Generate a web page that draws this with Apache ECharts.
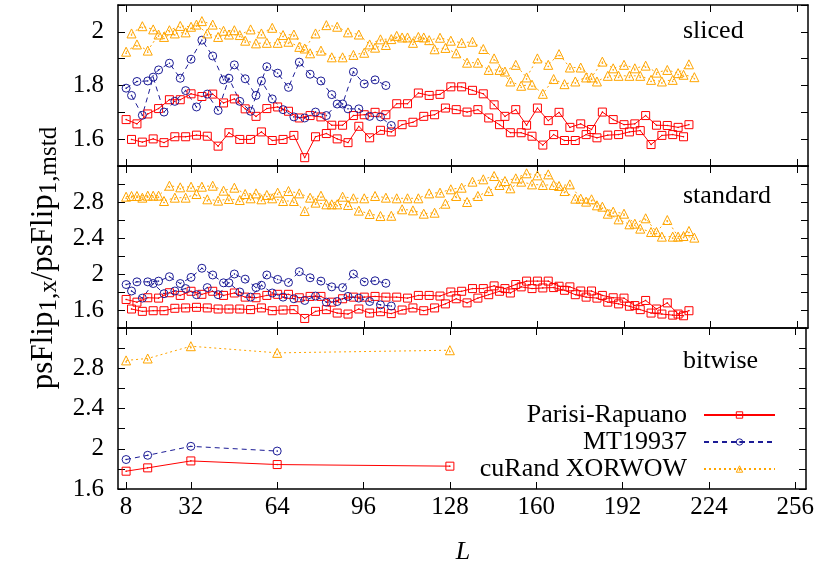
<!DOCTYPE html>
<html><head><meta charset="utf-8">
<script src="https://cdn.jsdelivr.net/npm/echarts@6/dist/echarts.min.js"></script>
<style>html,body{margin:0;padding:0;background:#fff}#c{width:817px;height:571px}</style>
</head><body><div id="c"></div>
<script>
// ---- L values ----
const L_A216 = [8,12,16,20,24,28,32,36,40,44,48,52,56,60,64,68,72,76,80,84,88,92,96,100,104,108,112,116,120,124,128,132,136,140,144,148,152,156,160,164,168,172,176,180,184,188,192,196,200,204,208,212,216];
const L_B214 = [10,14,18,22,26,30,34,38,42,46,50,54,58,62,66,70,74,78,82,86,90,94,98,102,106,110,114,118,122,126,130,134,138,142,146,150,154,158,162,166,170,174,178,182,186,190,194,198,202,206,210,214];
const L_B218 = [10,14,18,22,26,30,34,38,42,46,50,54,58,62,66,70,74,78,82,86,90,94,98,102,106,110,114,118,122,126,130,134,138,142,146,150,154,158,162,166,170,174,178,182,186,190,194,198,202,206,210,214,218];
const L_A104 = [8,12,16,20,24,28,32,36,40,44,48,52,56,60,64,68,72,76,80,84,88,92,96,100,104];
const L_B106 = [10,14,18,22,26,30,34,38,42,46,50,54,58,62,66,70,74,78,82,86,90,94,98,102,106];
const L_bit = [8,16,32,64,128];
const L_bitMT = [8,16,32,64];

// ---- sliced ----
const sl_PR_A = [1.673,1.657,1.694,1.714,1.747,1.747,1.769,1.759,1.768,1.735,1.75,1.713,1.685,1.714,1.72,1.704,1.679,1.688,1.683,1.652,1.652,1.688,1.691,1.70,1.691,1.732,1.732,1.772,1.763,1.767,1.795,1.795,1.782,1.769,1.728,1.685,1.71,1.652,1.716,1.669,1.70,1.644,1.657,1.636,1.701,1.673,1.654,1.657,1.688,1.652,1.651,1.644,1.654];
const sl_PR_B = [1.599,1.589,1.601,1.587,1.609,1.609,1.615,1.611,1.574,1.624,1.599,1.599,1.627,1.595,1.599,1.614,1.531,1.609,1.621,1.601,1.587,1.648,1.605,1.633,1.627,1.654,1.663,1.685,1.691,1.716,1.71,1.701,1.71,1.679,1.654,1.624,1.624,1.611,1.578,1.617,1.595,1.595,1.617,1.605,1.615,1.617,1.627,1.632,1.58,1.614,1.617,1.609];
const sl_MT_A = [1.790,1.815,1.817,1.858,1.883,1.827,1.898,1.969,1.91,1.821,1.877,1.825,1.763,1.87,1.846,1.793,1.887,1.842,1.817,1.766,1.731,1.851,1.806,1.821,1.80];
const sl_MT_B = [1.763,1.689,1.831,1.701,1.741,1.781,1.72,1.768,1.707,1.827,1.741,1.704,1.817,1.75,1.71,1.683,1.679,1.701,1.688,1.731,1.713,1.713,1.685,1.683,1.651];
const sl_XW_A = [1.926,1.953,1.93,1.99,2.006,2.022,2.019,2.04,2.027,2.004,2.006,1.967,1.957,1.959,1.959,1.963,1.944,1.92,1.93,1.905,1.905,1.914,1.922,1.941,1.951,1.985,1.979,1.981,1.969,1.978,1.967,1.959,1.963,1.936,1.901,1.852,1.877,1.83,1.901,1.877,1.917,1.867,1.867,1.83,1.889,1.864,1.877,1.864,1.874,1.848,1.858,1.846,1.879];
const sl_XW_B = [1.994,2.021,2.009,1.981,1.994,1.998,2.027,1.994,1.981,1.99,1.988,2.009,1.994,2.015,1.988,1.99,1.938,1.994,2.025,2.019,1.998,1.99,1.953,1.972,1.973,1.979,1.959,1.979,1.935,1.94,1.92,1.885,1.885,1.858,1.858,1.815,1.799,1.803,1.769,1.824,1.805,1.815,1.83,1.815,1.836,1.836,1.836,1.836,1.821,1.815,1.821,1.84,1.831];

// ---- standard ----
const st_PR_A = [1.717,1.687,1.736,1.732,1.792,1.762,1.808,1.774,1.808,1.762,1.789,1.743,1.736,1.762,1.774,1.774,1.736,1.751,1.751,1.687,1.725,1.743,1.743,1.751,1.743,1.743,1.732,1.762,1.762,1.755,1.80,1.808,1.838,1.838,1.868,1.838,1.883,1.921,1.921,1.921,1.864,1.857,1.811,1.811,1.762,1.736,1.732,1.649,1.706,1.611,1.679,1.555,1.592];
const st_PR_B = [1.611,1.585,1.592,1.592,1.619,1.623,1.63,1.623,1.611,1.611,1.611,1.604,1.623,1.592,1.60,1.604,1.506,1.585,1.604,1.566,1.555,1.611,1.566,1.581,1.56,1.60,1.623,1.592,1.623,1.668,1.725,1.679,1.732,1.77,1.808,1.789,1.857,1.838,1.845,1.849,1.819,1.77,1.743,1.732,1.687,1.668,1.642,1.604,1.566,1.555,1.543,1.536];
const st_MT_A = [1.883,1.913,1.913,1.921,1.97,1.894,1.962,2.064,1.989,1.902,2.0,1.943,1.849,1.989,1.94,1.906,2.026,1.958,1.921,1.857,1.849,2.0,1.913,1.925,1.897];
const st_MT_B = [1.811,1.732,1.894,1.781,1.811,1.838,1.77,1.849,1.77,1.902,1.80,1.743,1.875,1.789,1.743,1.725,1.706,1.755,1.687,1.694,1.751,1.732,1.694,1.657,1.644];
const st_XW_A = [2.859,2.867,2.87,2.87,2.981,2.963,2.97,2.97,2.981,2.926,2.959,2.889,2.896,2.878,2.904,2.922,2.896,2.848,2.87,2.774,2.859,2.841,2.841,2.867,2.848,2.841,2.841,2.841,2.896,2.904,2.941,2.959,3.026,3.052,3.089,3.033,3.063,3.119,3.096,3.107,2.978,2.996,2.837,2.83,2.748,2.693,2.67,2.559,2.619,2.467,2.60,2.415,2.478];
const st_XW_B = [2.867,2.848,2.87,2.811,2.848,2.848,2.889,2.83,2.815,2.833,2.822,2.841,2.83,2.841,2.811,2.811,2.70,2.793,2.774,2.774,2.767,2.704,2.667,2.644,2.647,2.719,2.707,2.67,2.681,2.781,2.867,2.80,2.867,2.922,2.989,2.952,3.026,2.996,2.989,2.989,2.922,2.837,2.804,2.763,2.67,2.607,2.552,2.504,2.467,2.415,2.415,2.422,2.404];

// ---- bitwise ----
const bw_PR = [1.777,1.81,1.879,1.843,1.827];
const bw_MT = [1.893,1.935,2.024,1.977];
const bw_XW = [2.878,2.897,3.019,2.953,2.979];

// ---- axes / labels ----
const xTicks = [8,32,64,96,128,160,192,224,256];
const panelNames = ['sliced','standard','bitwise'];
const yTickLabels = [[1.6,1.8,2],[1.6,2,2.4,2.8],[1.6,2,2.4,2.8]];
const seriesNames = ['Parisi-Rapuano','MT19937','cuRand XORWOW'];

const FONT = '"Liberation Serif", "Times New Roman", serif';
const RED = '#ff0000', BLUE = '#1c1c96', ORANGE = '#ffa500';

const grids = [
  {left:118, right:9, top:5, height:161},
  {left:118, right:9, top:166, height:162},
  {left:118, right:9, top:328, height:161}
];
const yR = [{min:1.5,max:2.1,interval:0.1},{min:1.4,max:3.2,interval:0.2},{min:1.6,max:3.2,interval:0.2}];

const xAxis = [], yAxis = [];
grids.forEach((g,i)=>{
  ['bottom','top'].forEach(pos=>{
    xAxis.push({type:'value', gridIndex:i, position:pos, min:5, max:260,
      axisLine:{show:true, onZero:false, lineStyle:{color:'#000', width:1.5}},
      axisTick:{show:true, inside:true, length:7, customValues:xTicks, lineStyle:{color:'#000', width:1}},
      axisLabel:{show:(i===2 && pos==='bottom'), customValues:xTicks, fontFamily:FONT, fontSize:25, color:'#000', margin:6},
      splitLine:{show:false}});
  });
  ['left','right'].forEach(pos=>{
    yAxis.push({type:'value', gridIndex:i, position:pos, min:yR[i].min, max:yR[i].max, interval:yR[i].interval,
      axisLine:{show:true, onZero:false, lineStyle:{color:'#000', width:1.5}},
      axisTick:{show:true, inside:true, length:7, lineStyle:{color:'#000', width:1}},
      axisLabel:{show:pos==='left', fontFamily:FONT, fontSize:25, color:'#000', margin:14,
        formatter: v => yTickLabels[i].some(l=>Math.abs(l-v)<1e-6) ? String(Math.round(v*10)/10) : ''},
      splitLine:{show:false}});
  });
});

const styles = {
  'Parisi-Rapuano': {color:RED, symbol:'path://M0,0H10V10H0Z M4.6,4.6H5.4V5.4H4.6Z', size:8, line:'solid'},
  'MT19937': {color:BLUE, symbol:'path://M10,5A5,5,0,1,1,0,5A5,5,0,1,1,10,5Z M4.6,4.6H5.4V5.4H4.6Z', size:8, line:[5,4]},
  'cuRand XORWOW': {color:ORANGE, symbol:'path://M5,0L10,9L0,9Z M4.6,5.6H5.4V6.4H4.6Z', size:9, line:[2,3]}
};
function mk(name, panel, L, V){
  const s = styles[name];
  return {name, type:'line', xAxisIndex:2*panel, yAxisIndex:2*panel,
    data: L.map((l,k)=>[l, V[k]]),
    symbol:s.symbol, symbolSize:s.size, showAllSymbol:true,
    itemStyle:{color:'rgba(255,255,255,0)', borderColor:s.color, borderWidth:1},
    lineStyle:{color:s.color, width:1, type:s.line},
    silent:true, animation:false};
}
const series = [
  mk(seriesNames[0],0,L_A216,sl_PR_A), mk(seriesNames[0],0,L_B214,sl_PR_B),
  mk(seriesNames[1],0,L_A104,sl_MT_A), mk(seriesNames[1],0,L_B106,sl_MT_B),
  mk(seriesNames[2],0,L_A216,sl_XW_A), mk(seriesNames[2],0,L_B218,sl_XW_B),
  mk(seriesNames[0],1,L_A216,st_PR_A), mk(seriesNames[0],1,L_B214,st_PR_B),
  mk(seriesNames[1],1,L_A104,st_MT_A), mk(seriesNames[1],1,L_B106,st_MT_B),
  mk(seriesNames[2],1,L_A216,st_XW_A), mk(seriesNames[2],1,L_B218,st_XW_B),
  mk(seriesNames[0],2,L_bit,bw_PR), mk(seriesNames[1],2,L_bitMT,bw_MT), mk(seriesNames[2],2,L_bit,bw_XW)
];

const panelLabelY = [31, 196, 361];
const graphic = panelNames.map((t,i)=>({type:'text', x:683, y:panelLabelY[i], silent:true,
  style:{text:t, fontFamily:FONT, fontSize:26, fill:'#000', textAlign:'left', textVerticalAlign:'middle', align:'left', verticalAlign:'middle'}}));
graphic.push({type:'text', x:463, y:552, silent:true,
  style:{text:'L', fontFamily:FONT, fontSize:26, fontStyle:'italic', fill:'#000', textAlign:'center', textVerticalAlign:'middle', align:'center', verticalAlign:'middle'}});
graphic.push({type:'text', x:44, y:258, rotation:Math.PI/2, silent:true,
  style:{text:'{m|psFlip}{s|1,x}{m|/psFlip}{s|1,mstd}', fill:'#000',
    textAlign:'center', textVerticalAlign:'middle', align:'center', verticalAlign:'middle',
    rich:{m:{fontFamily:FONT, fontSize:31, lineHeight:36, verticalAlign:'middle'},
          s:{fontFamily:FONT, fontSize:25, lineHeight:36, verticalAlign:'bottom', padding:[12,0,0,0]}}}});

const chart = echarts.init(document.getElementById('c'), null, {renderer:'canvas'});
chart.setOption({
  animation:false,
  backgroundColor:'#fff',
  grid: grids,
  xAxis, yAxis, series, graphic,
  legend:{data:seriesNames, orient:'vertical', align:'right', right:41, top:402, padding:0,
    itemWidth:71, itemHeight:8, itemGap:1, selectedMode:false,
    itemStyle:{color:'rgba(255,255,255,0)', borderWidth:1, borderColor:'inherit'},
    textStyle:{fontFamily:FONT, fontSize:26, color:'#000', lineHeight:26, padding:[0,12,0,0]}}
});
</script></body></html>
